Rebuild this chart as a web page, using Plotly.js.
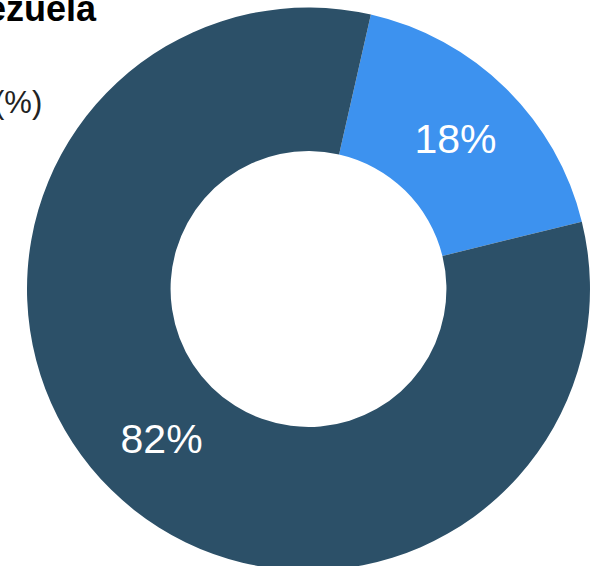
<!DOCTYPE html>
<html>
<head>
<meta charset="utf-8">
<script src="https://cdn.plot.ly/plotly-3.0.1.min.js"></script>
<style>
html,body{margin:0;padding:0;overflow:hidden;background:#fff;}
#chart{width:600px;height:572px;}
</style>
</head>
<body>
<div id="chart"></div>
<script>
const labels = ["Segment A", "Segment B"];
const values = [17.6, 82.4];
const colors = ["#3d92ef", "#2c5068"];
const titleText = "Venezuela";
const subtitleText = "(%)";

const W = 600, H = 572;
const data = [{
  type: "pie",
  labels: labels,
  values: values,
  hole: 0.49,
  sort: false,
  direction: "clockwise",
  rotation: 12.8,
  marker: {colors: colors, line: {width: 0}},
  texttemplate: "%{percent:.0%}",
  textposition: "inside",
  insidetextorientation: "horizontal",
  textfont: {family: "Liberation Sans, Arial, sans-serif", size: 41, color: "#ffffff"},
  hoverinfo: "none",
  domain: {x: [27/W, 590/W], y: [0, (H-6)/H]}
}];

const layout = {
  width: W, height: H,
  margin: {l: 0, r: 0, t: 0, b: 0},
  paper_bgcolor: "#ffffff",
  showlegend: false,
  annotations: [
    {text: "<b>" + titleText + "</b>", xref: "paper", yref: "paper", x: 99/W, y: 1 - 9/H,
     xanchor: "right", yanchor: "middle", showarrow: false,
     font: {family: "Liberation Sans, Arial, sans-serif", size: 36, color: "#000000"}},
    {text: subtitleText, xref: "paper", yref: "paper", x: 44/W, y: 1 - 102/H,
     xanchor: "right", yanchor: "middle", showarrow: false,
     font: {family: "Liberation Sans, Arial, sans-serif", size: 31, color: "#222222"}}
  ]
};

Plotly.newPlot("chart", data, layout, {displayModeBar: false, staticPlot: true});
</script>
</body>
</html>
